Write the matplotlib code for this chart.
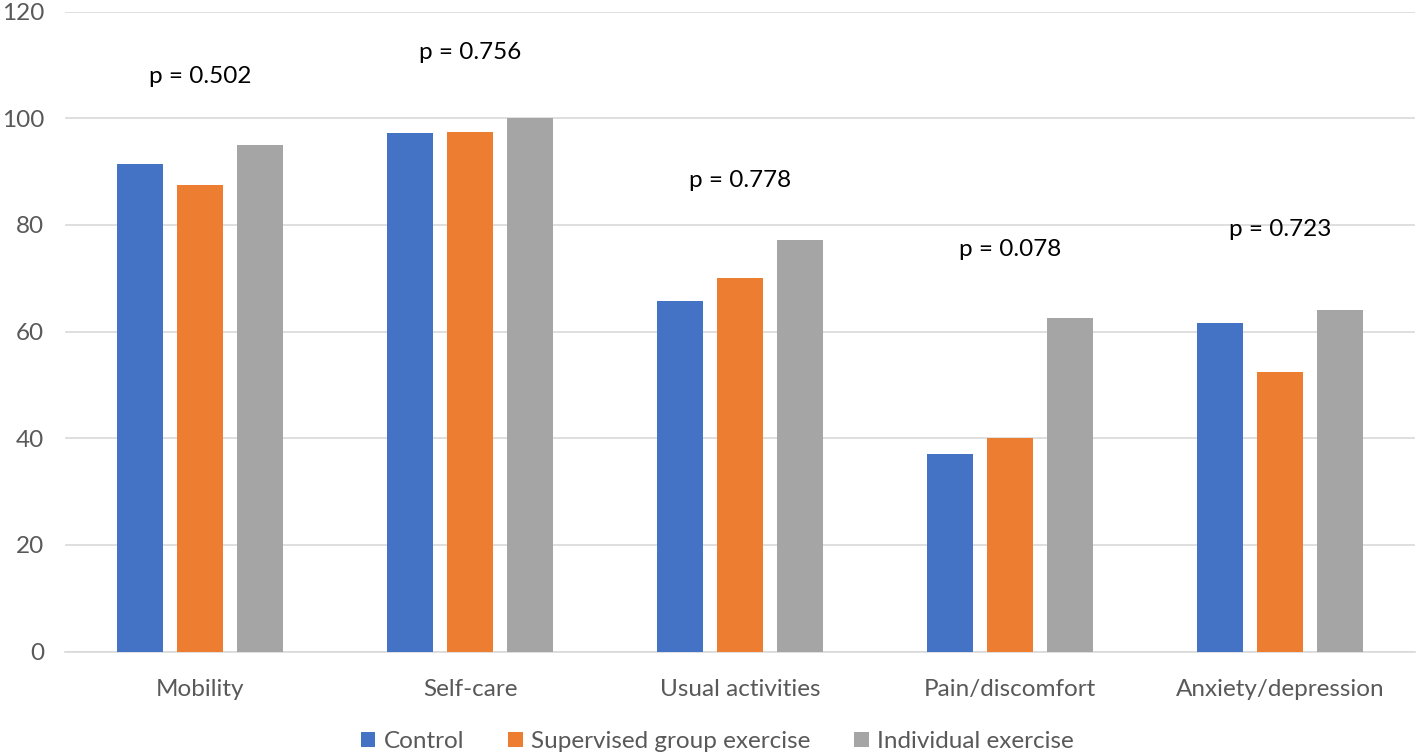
import numpy as np
import matplotlib
matplotlib.use("Agg")
from matplotlib import pyplot as plt

plt.rcParams['font.family'] = ['Lato', 'DejaVu Sans']

categories = ["Mobility", "Self-care", "Usual activities", "Pain/discomfort", "Anxiety/depression"]
series_names = ["Control", "Supervised group exercise", "Individual exercise"]
control = [91.5, 97.2, 65.7, 37.1, 61.6]
supervised = [87.4, 97.4, 70.0, 40.1, 52.5]
individual = [94.9, 100.0, 77.1, 62.5, 64.1]
p_labels = ["p = 0.502", "p = 0.756", "p = 0.778", "p = 0.078", "p = 0.723"]
p_label_y = [107.9, 112.3, 88.4, 75.3, 79.2]

colors = ["#4472C4", "#ED7D31", "#A5A5A5"]

fig = plt.figure(figsize=(14.18, 7.56), dpi=100)
ax = fig.add_axes([65 / 1418, 104.5 / 756, 1350 / 1418, 640 / 756])

x = np.arange(len(categories))
step = 0.222
width = 0.170
for i, (vals, name) in enumerate(zip([control, supervised, individual], series_names)):
    ax.bar(x + (i - 1) * step, vals, width, color=colors[i], label=name, zorder=3)

for xi, lab, yi in zip(x, p_labels, p_label_y):
    ax.text(xi, yi, lab, ha="center", va="center", fontsize=17.5, color="black")

ax.set_xlim(-0.5, len(categories) - 0.5)
ax.set_ylim(0, 120)
ax.set_yticks(np.arange(0, 121, 20))
ax.set_xticks(x)
ax.set_xticklabels(categories)
ax.yaxis.grid(True, color="#d9d9d9", linewidth=1.2, zorder=0)
ax.set_axisbelow(True)
for s in ["top", "right", "left"]:
    ax.spines[s].set_visible(False)
ax.spines["bottom"].set_color("#d9d9d9")
ax.spines["bottom"].set_linewidth(1.2)
ax.tick_params(axis="both", length=0, labelsize=17.5, colors="#595959")
ax.tick_params(axis="x", pad=19.5)
ax.tick_params(axis="y", pad=15)

leg = fig.legend(loc="lower center", bbox_to_anchor=(0.506, -0.024), ncol=3, frameon=False,
                 fontsize=17.5, handlelength=0.6, handleheight=0.6, handletextpad=0.35,
                 columnspacing=1.8)
for t in leg.get_texts():
    t.set_color("#595959")

fig.savefig("out.png", dpi=100)
